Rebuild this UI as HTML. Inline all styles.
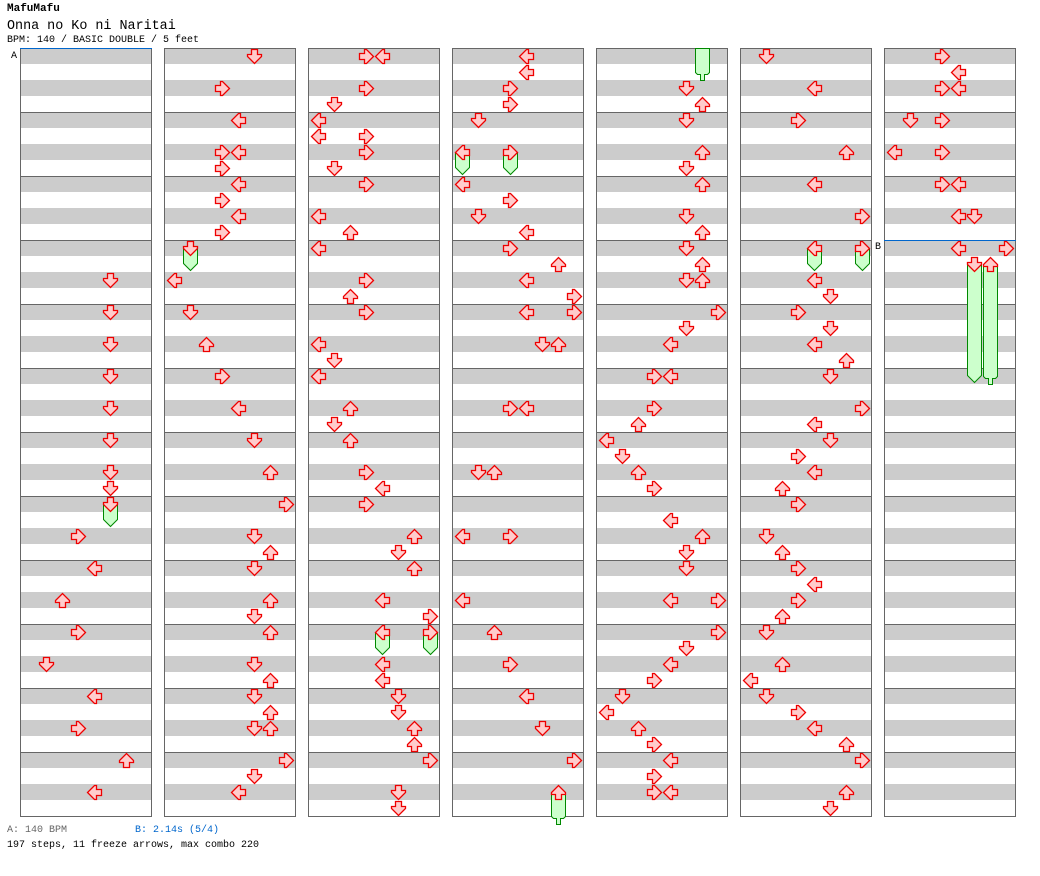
<!DOCTYPE html>
<html><head><meta charset="utf-8">
<style>
html,body{margin:0;padding:0;background:#fff;width:1040px;height:876px;overflow:hidden;font-family:"Liberation Mono",monospace;}
.t{position:absolute;white-space:nowrap;color:#000;}
</style></head><body>
<div class="t" style="left:7px;top:3px;font-size:11px;font-weight:bold;">MafuMafu</div>
<div class="t" style="left:7px;top:19px;font-size:13.4px;">Onna no Ko ni Naritai</div>
<div class="t" style="left:7px;top:35px;font-size:10px;">BPM: 140 / BASIC DOUBLE / 5 feet</div>
<div class="t" style="left:7px;top:825px;font-size:10px;color:#666;">A: 140 BPM</div>
<div class="t" style="left:135px;top:825px;font-size:10px;color:#0066cc;">B: 2.14s (5/4)</div>
<div class="t" style="left:7px;top:840px;font-size:10px;">197 steps, 11 freeze arrows, max combo 220</div>
<svg id="s" width="1040" height="876" style="position:absolute;left:0;top:0" xmlns="http://www.w3.org/2000/svg">
<defs>
<polygon id="ar" points="-3,-7 3,-7 3,-2 7,-2 7,0 0,7 -7,0 -7,-2 -3,-2" fill="#ffcccc" stroke="#ee0000" stroke-width="1.3"/>
</defs>
<g id="bg"></g><g id="fz"></g><g id="aw"></g>
<text x="11" y="58" font-family="Liberation Mono,monospace" font-size="10">A</text>
<text x="875" y="249" font-family="Liberation Mono,monospace" font-size="10">B</text>
</svg>
<script>
var NS="http://www.w3.org/2000/svg";
function el(t,a,p){var e=document.createElementNS(NS,t);for(var k in a)e.setAttribute(k,a[k]);document.getElementById(p).appendChild(e);return e;}
for(var c=0;c<7;c++){var L=20+144*c;
 for(var r=0;r<48;r++){el('rect',{x:L,y:48+16*r,width:132,height:16,fill:r%2?'#ffffff':'#cccccc'},'bg');}
 for(var m=1;m<12;m++){el('line',{x1:L,x2:L+132,y1:48+64*m+0.5,y2:48+64*m+0.5,stroke:'#666','stroke-width':1},'bg');}
 el('rect',{x:L+0.5,y:48.5,width:131,height:768,fill:'none',stroke:'#666','stroke-width':1},'bg');
}
el('line',{x1:20,x2:152,y1:48.5,y2:48.5,stroke:'#0066cc','stroke-width':1},'bg');
el('line',{x1:884,x2:1016,y1:240.5,y2:240.5,stroke:'#0066cc','stroke-width':1},'bg');
var D=[
"5:280,5:312,5:344,5:376,5:408,5:440,5:472,5:488,5:504,3:536,4:568,2:600,3:632,1:664,4:696,3:728,6:760,4:792",
"5:56,3:88,4:120,3:152,4:152,3:168,4:184,3:200,4:216,3:232,1:248,0:280,1:312,2:344,3:376,4:408,5:440,6:472,7:504,5:536,6:552,5:568,6:600,5:616,6:632,5:664,6:680,5:696,6:712,5:728,6:728,7:760,5:776,4:792",
"3:56,4:56,3:88,1:104,0:120,0:136,3:136,3:152,1:168,3:184,0:216,2:232,0:248,3:280,2:296,3:312,0:344,1:360,0:376,2:408,1:424,2:440,3:472,4:488,3:504,6:536,5:552,6:568,4:600,7:616,4:632,7:632,4:664,4:680,5:696,5:712,6:728,6:744,7:760,5:792,5:808",
"4:56,4:72,3:88,3:104,1:120,0:152,3:152,0:184,3:200,1:216,4:232,3:248,6:264,4:280,7:296,4:312,7:312,5:344,6:344,3:408,4:408,1:472,2:472,0:536,3:536,0:600,2:632,3:664,4:696,5:728,7:760,6:792",
"5:88,6:104,5:120,6:152,5:168,6:184,5:216,6:232,5:248,6:264,5:280,6:280,7:312,5:328,4:344,3:376,4:376,3:408,2:424,0:440,1:456,2:472,3:488,4:520,6:536,5:552,5:568,4:600,7:600,7:632,5:648,4:664,3:680,1:696,0:712,2:728,3:744,4:760,3:776,3:792,4:792",
"1:56,4:88,3:120,6:152,4:184,7:216,4:248,7:248,4:280,5:296,3:312,5:328,4:344,6:360,5:376,7:408,4:424,5:440,3:456,4:472,2:488,3:504,1:536,2:552,3:568,4:584,3:600,2:616,1:632,2:664,0:680,1:696,3:712,4:728,6:744,7:760,6:792,5:808",
"3:56,4:72,3:88,4:88,1:120,3:120,0:152,3:152,3:184,4:184,4:216,5:216,4:248,7:248,5:264,6:264"];
var ROT=[90,0,180,-90];
function lx(c,l){return 20+144*c+10+16*l;}
var F=[[0,5,504,526],[1,1,248,270],[2,4,632,654],[2,7,632,654],[3,0,152,174],[3,3,152,174],[5,4,248,270],[5,7,248,270],[6,5,264,382],[6,6,264,384,1],[3,6,792,824,1],[4,6,48,80,1]];
F.forEach(function(f){var x=lx(f[0],f[1]);var top=f[2],end=f[3];
 var pts;
 if(f[4]){var b=end-8;pts=[[x-7,top],[x+7,top],[x+7,b],[x+5,b+2],[x+2,b+2],[x+2,end],[x-2,end],[x-2,b+2],[x-5,b+2],[x-7,b]];}
 else{var b=end-7;pts=[[x-7,top],[x+7,top],[x+7,b],[x,end],[x-7,b]];}
 el('polygon',{points:pts.map(function(q){return (q[0]+0.5)+','+(q[1]+0.5)}).join(' '),fill:'#ccffcc',stroke:'#008800','stroke-width':1},'fz');
});
D.forEach(function(s,c){s.split(',').forEach(function(it){var a=it.split(':');var l=+a[0],y=+a[1];var x=lx(c,l);
 var u=el('use',{href:'#ar',transform:'translate('+(x+0.5)+','+(y+0.5)+') rotate('+ROT[l%4]+')'},'aw');
 u.setAttributeNS('http://www.w3.org/1999/xlink','xlink:href','#ar');
});});
</script>
</body></html>
